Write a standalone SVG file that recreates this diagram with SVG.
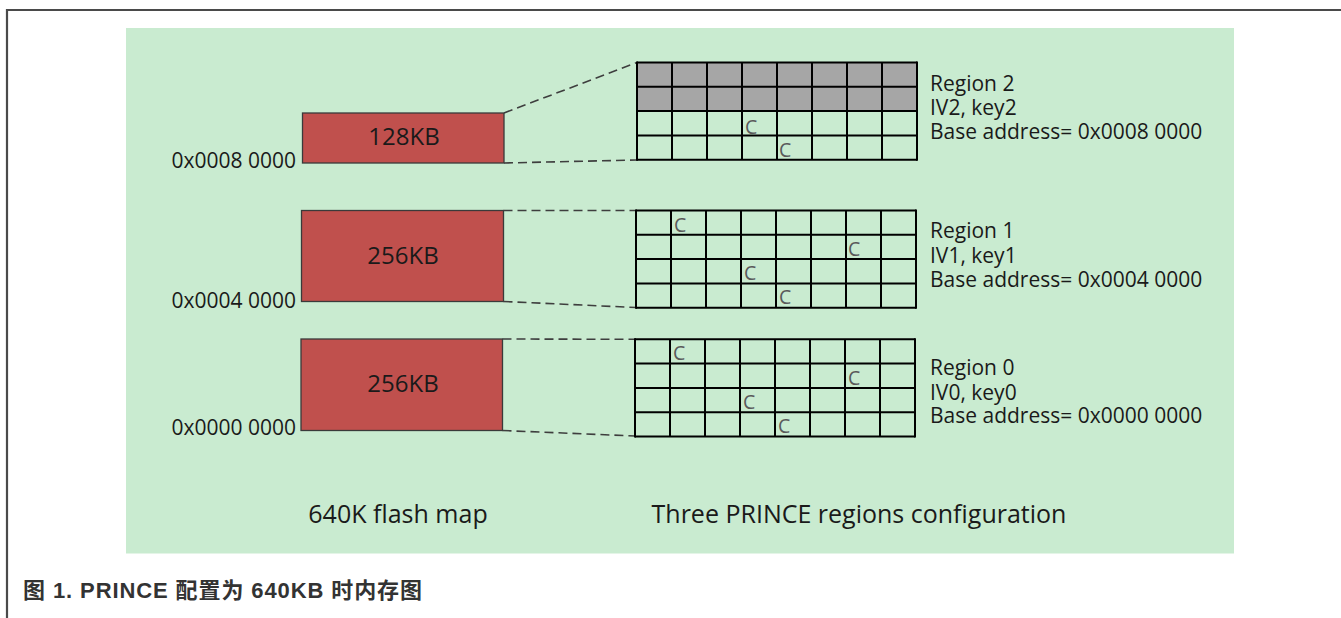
<svg xmlns="http://www.w3.org/2000/svg" xmlns:xlink="http://www.w3.org/1999/xlink" width="1341" height="618" viewBox="0 0 1341 618">
  <style>
    .t { font-family: "Open Sans", "Noto Sans", "DejaVu Sans", sans-serif; fill: #1a1a1a; }
    .addr { font-size: 21px; text-anchor: end; }
    .size { font-size: 24px; text-anchor: middle; }
    .info { font-size: 21px; }
    .foot { font-size: 25px; }
    .c { font-family: "Open Sans", "Noto Sans", sans-serif; font-size: 19.5px; fill: #5a5a5a; }
    .blk { fill: #c0504d; stroke: #3a3a3a; stroke-width: 1.3; }
    .grid line { stroke: #000; stroke-width: 2; }
    .dash { fill: none; stroke: #3e3e3e; stroke-width: 1.6; stroke-dasharray: 9 5; }
    .cap { font-family: "Liberation Sans", Arial, "Noto Sans CJK SC", sans-serif; font-weight: bold; font-size: 22px; letter-spacing: 0.9px; fill: #333; }
  </style>
  <defs>
    <!-- 8 x 4 cell grid, 35 x 24.3 per cell -->
    <g id="cells" class="grid">
      <line x1="0" y1="0" x2="280" y2="0"/>
      <line x1="0" y1="24.3" x2="280" y2="24.3"/>
      <line x1="0" y1="48.6" x2="280" y2="48.6"/>
      <line x1="0" y1="72.9" x2="280" y2="72.9"/>
      <line x1="0" y1="97.2" x2="280" y2="97.2"/>
      <line x1="0" y1="-1" x2="0" y2="98.2"/>
      <line x1="35" y1="0" x2="35" y2="97.2"/>
      <line x1="70" y1="0" x2="70" y2="97.2"/>
      <line x1="105" y1="0" x2="105" y2="97.2"/>
      <line x1="140" y1="0" x2="140" y2="97.2"/>
      <line x1="175" y1="0" x2="175" y2="97.2"/>
      <line x1="210" y1="0" x2="210" y2="97.2"/>
      <line x1="245" y1="0" x2="245" y2="97.2"/>
      <line x1="280" y1="-1" x2="280" y2="98.2"/>
    </g>
  </defs>

  <!-- page frame and background panel -->
  <rect width="1341" height="618" fill="#fff"/>
  <path d="M7,618 V10 H1341" fill="none" stroke="#4a4a4a" stroke-width="2.2"/>
  <rect x="126" y="28" width="1108" height="525.5" fill="#c9ebd0"/>

  <!-- flash map blocks -->
  <g id="block-128k">
    <rect class="blk" x="302.5" y="113" width="201.5" height="50"/>
    <text class="t size" x="404" y="145">128KB</text>
    <text class="t addr" x="296" y="168">0x0008 0000</text>
  </g>
  <g id="block-256k-hi">
    <rect class="blk" x="301.5" y="210.5" width="202" height="91"/>
    <text class="t size" x="403" y="264">256KB</text>
    <text class="t addr" x="296" y="308">0x0004 0000</text>
  </g>
  <g id="block-256k-lo">
    <rect class="blk" x="301" y="339" width="201.5" height="91.5"/>
    <text class="t size" x="403" y="392">256KB</text>
    <text class="t addr" x="296" y="435">0x0000 0000</text>
  </g>

  <!-- dashed projection lines -->
  <g id="connectors">
    <path class="dash" d="M504,113 L637,62.5"/>
    <path class="dash" d="M504,163 L637,160"/>
    <path class="dash" d="M503.5,210.5 L636,210.5"/>
    <path class="dash" d="M503.5,301.5 L636,307.5"/>
    <path class="dash" d="M502.5,339 L635,339.3"/>
    <path class="dash" d="M502.5,430.5 L635,436"/>
  </g>

  <!-- region 2 -->
  <g id="region-2">
    <rect x="637" y="62.5" width="280" height="48.6" fill="#a6a6a6"/>
    <use xlink:href="#cells" x="637" y="62.5"/>
    <text class="c" x="745" y="133.5">C</text>
    <text class="c" x="779" y="157">C</text>
    <text class="t info" x="930" y="90.5">Region 2</text>
    <text class="t info" x="930" y="115">IV2, key2</text>
    <text class="t info" x="930" y="139.3">Base address= 0x0008 0000</text>
  </g>

  <!-- region 1 -->
  <g id="region-1">
    <use xlink:href="#cells" x="636" y="210.5"/>
    <text class="c" x="674" y="231.5">C</text>
    <text class="c" x="848" y="256">C</text>
    <text class="c" x="744" y="280">C</text>
    <text class="c" x="779" y="303.5">C</text>
    <text class="t info" x="930" y="238.3">Region 1</text>
    <text class="t info" x="930" y="263.3">IV1, key1</text>
    <text class="t info" x="930" y="287.3">Base address= 0x0004 0000</text>
  </g>

  <!-- region 0 -->
  <g id="region-0">
    <use xlink:href="#cells" x="635" y="339.3"/>
    <text class="c" x="673" y="360">C</text>
    <text class="c" x="848" y="384.5">C</text>
    <text class="c" x="743" y="409">C</text>
    <text class="c" x="778" y="433">C</text>
    <text class="t info" x="930" y="375">Region 0</text>
    <text class="t info" x="930" y="400">IV0, key0</text>
    <text class="t info" x="930" y="423.3">Base address= 0x0000 0000</text>
  </g>

  <!-- column headings -->
  <g id="labels">
    <text class="t foot" x="398" y="523" text-anchor="middle">640K flash map</text>
    <text class="t foot" x="859" y="523" text-anchor="middle">Three PRINCE regions configuration</text>
  </g>

  <!-- figure caption -->
  <text class="cap" x="23" y="598">图 1. PRINCE 配置为 640KB 时内存图</text>
</svg>
